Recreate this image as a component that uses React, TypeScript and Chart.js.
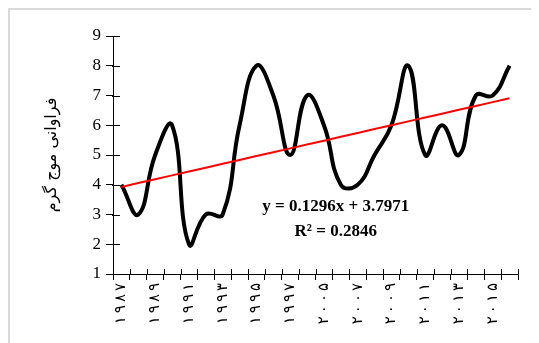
import React, { useEffect, useRef } from "react";
import { Chart, registerables } from "chart.js";

Chart.register(...registerables);

const years: number[] = [
  1987, 1988, 1989, 1990, 1991, 1992, 1993, 1994, 1995, 1996, 1997, 1998,
  2005, 2006, 2007, 2008, 2009, 2010, 2011, 2012, 2013, 2014, 2015, 2016,
];
const heatWaveCounts: number[] = [
  4, 3, 5, 6, 2, 3, 3, 6, 8, 7, 5, 7, 6, 4, 4, 5, 6, 8, 5, 6, 5, 7, 7, 8,
];
const trendSlope = 0.1296;
const trendIntercept = 3.7971;
const rSquared = 0.2846;
const yTicks = { min: 1, max: 9, step: 1 };
const yTitle = "فراوانی موج گرم";

const toPersian = (s: string) => s.replace(/[0-9]/g, (d) => String.fromCharCode(0x06f0 + Number(d)));
const labels = years.map((y) => toPersian(String(y)));
const spaced = (s: string) => Array.from(s).join("\u2009");
const trendValues = years.map((_, i) => trendSlope * (i + 1) + trendIntercept);

const crossTicks = {
  id: "crossTicks",
  afterDraw(chart: any) {
    const { ctx, chartArea, scales } = chart;
    ctx.save();
    ctx.strokeStyle = "#000";
    ctx.lineWidth = 1;
    const x = scales.x;
    const y = scales.y;
    ctx.beginPath();
    for (let i = 0; i <= labels.length; i++) {
      const px = Math.round(x.getPixelForValue(i - 0.5)) + 0.5;
      ctx.moveTo(px, chartArea.bottom + 1);
      ctx.lineTo(px, chartArea.bottom - 5);
    }
    for (let v = yTicks.min; v <= yTicks.max; v += yTicks.step) {
      const py = Math.round(y.getPixelForValue(v)) + 0.5;
      ctx.moveTo(chartArea.left - 1, py);
      ctx.lineTo(chartArea.left + 7, py);
    }
    ctx.stroke();
    // equation text
    ctx.fillStyle = "#000";
    ctx.font = "bold 17px 'Liberation Serif', serif";
    ctx.textAlign = "center";
    ctx.textBaseline = "middle";
    const cx = x.getPixelForValue(12.7);
    ctx.fillText(`y = ${trendSlope}x + ${trendIntercept}`, cx, y.getPixelForValue(3.25));
    ctx.fillText(`R² = ${rSquared}`, cx, y.getPixelForValue(2.42));
    ctx.restore();
  },
};

export default function App() {
  const ref = useRef<HTMLCanvasElement | null>(null);
  useEffect(() => {
    if (!ref.current) return;
    const chart = new Chart(ref.current, {
      type: "line",
      data: {
        labels,
        datasets: [
          {
            data: heatWaveCounts,
            borderColor: "#000",
            borderWidth: 4,
            pointRadius: 0,
            tension: 0.45,
            fill: false,
            order: 1,
          },
          {
            data: trendValues,
            borderColor: "#ff0000",
            borderWidth: 2,
            pointRadius: 0,
            tension: 0,
            fill: false,
            order: 0,
          },
        ],
      },
      options: {
        animation: false,
        responsive: false,
        events: [],
        layout: { padding: { left: 0, right: 21, top: 26, bottom: 0 } },
        plugins: { legend: { display: false }, tooltip: { enabled: false } },
        scales: {
          x: {
            offset: true,
            grid: {
              offset: true,
              display: true,
              drawOnChartArea: false,
              color: "#000",
              tickLength: 6,
            },
            border: { color: "#000", width: 1 },
            ticks: {
              autoSkip: false,
              maxRotation: 90,
              minRotation: 90,
              padding: 3,
              color: "#000",
              font: { family: "'DejaVu Sans', sans-serif", size: 15 },
              callback: (_v: any, i: number) => (i % 2 === 0 ? spaced(labels[i]) : ""),
            },
            afterFit: (s: any) => {
              s.height = 69;
            },
          },
          y: {
            min: yTicks.min,
            max: yTicks.max,
            grid: {
              display: true,
              drawOnChartArea: false,
              color: "#000",
              tickLength: 7,
            },
            border: { color: "#000", width: 1 },
            ticks: {
              stepSize: yTicks.step,
              padding: 5,
              color: "#000",
              font: { family: "'Liberation Serif', serif", size: 17 },
            },
            title: {
              display: true,
              text: yTitle,
              color: "#000",
              font: { family: "'DejaVu Sans', sans-serif", size: 16 },
              padding: { top: 32, bottom: 0 },
            },
            afterFit: (s: any) => {
              s.width = 103;
              s.paddingTop = 0;
              s.paddingBottom = 0;
            },
          },
        },
      },
      plugins: [crossTicks],
    });
    return () => chart.destroy();
  }, []);
  return (
    <div
      style={{
        width: 529,
        height: 333,
        borderTop: "2px solid #d9d9d9",
        borderLeft: "2px solid #d9d9d9",
        background: "#fff",
      }}
    >
      <canvas ref={ref} width={529} height={333} style={{ display: "block" }} />
    </div>
  );
}
